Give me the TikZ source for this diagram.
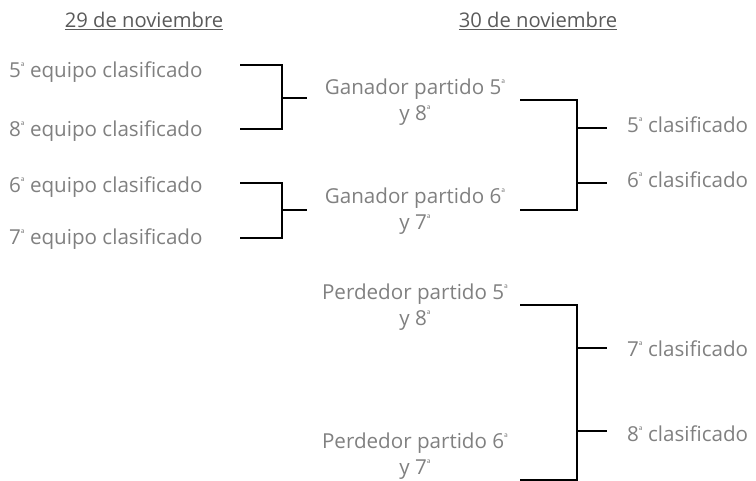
\documentclass[tikz,border=0pt]{standalone}
\usepackage{fontspec}
\setmainfont{Open Sans}
\usetikzlibrary{calc}
\definecolor{txtgray}{HTML}{808080}
\definecolor{ttlgray}{HTML}{5A5A5A}
\newcommand{\ordsup}{\raisebox{7.8pt}{\fontsize{10.5}{10}\selectfont ª}}
\tikzset{
  lbl/.style={text=txtgray,font=\fontsize{20.6}{26}\selectfont,inner sep=0pt},
  ttl/.style={text=ttlgray,font=\fontsize{20.2}{26}\selectfont,inner sep=0pt},
  brk/.style={line width=2.2pt,draw=black}
}
\begin{document}
\begin{tikzpicture}[x=1pt,y=-1pt]
        \useasboundingbox (0,0) rectangle (756,481);
        % headings
        \node[ttl,anchor=base] (d29) at (144,28) {\underline{29 de noviembre}};
        \node[ttl,anchor=base] (d30) at (538,28) {\underline{30 de noviembre}};
        % first day
        \foreach \n/\y in {5/78,8/137,6/193,7/245}{
            \node[lbl,anchor=base west] (e\n) at (9,\y) {\n\ordsup\ equipo clasificado};
        }
        % second day (base = second line)
        \node[lbl,anchor=base,align=center] (g58) at (415,121) {Ganador partido 5\ordsup\\y 8\ordsup};
        \node[lbl,anchor=base,align=center] (g67) at (415,230) {Ganador partido 6\ordsup\\y 7\ordsup};
        \node[lbl,anchor=base,align=center] (p58) at (415,326) {Perdedor partido 5\ordsup\\y 8\ordsup};
        \node[lbl,anchor=base,align=center] (p67) at (415,475) {Perdedor partido 6\ordsup\\y 7\ordsup};
        \foreach \n/\y in {5/133,6/188,7/357,8/442}{
            \node[lbl,anchor=base west] (c\n) at (627,\y) {\n\ordsup\ clasificado};
        }
        % brackets
        \coordinate (a5) at (240,65);  \coordinate (a8) at (240,129);
        \coordinate (a6) at (240,183); \coordinate (a7) at (240,238);
        \coordinate (ka) at (282,98);  \coordinate (kb) at (282,210);
        \draw[brk] (a5) -| (ka) |- (a8);
        \draw[brk] (a6) -| (kb) |- (a7);
        \draw[brk] (ka) -- ++(25,0);
        \draw[brk] (kb) -- ++(25,0);
        \coordinate (w1) at (520,100); \coordinate (w2) at (520,210);
        \coordinate (l1) at (520,305); \coordinate (l2) at (520,480);
        \draw[brk] (w1) -| (577,155) |- (w2);
        \draw[brk] (l1) -| (577,390) |- (l2);
        \foreach \n/\y in {5/128,6/183,7/348,8/431}{
            \draw[brk] (577,\y) -- ++(30,0) coordinate (s\n);
        }
\end{tikzpicture}
\end{document}
